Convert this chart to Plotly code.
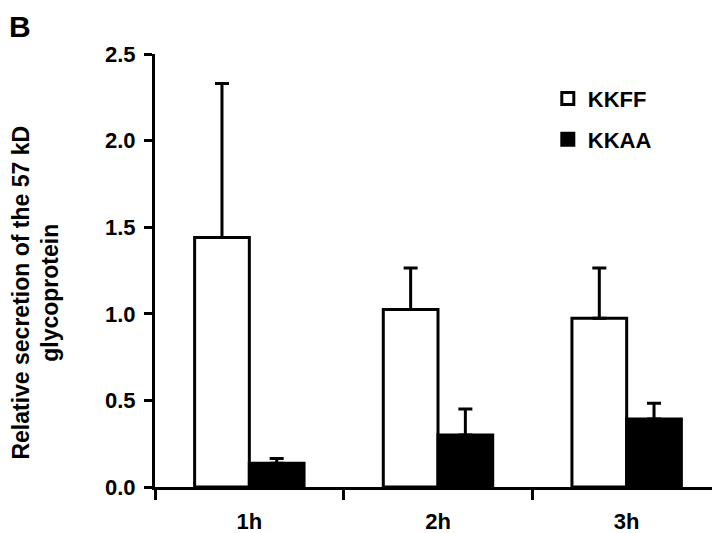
import plotly.graph_objects as go

categories = ["1h", "2h", "3h"]
kkff_values = [1.44, 1.025, 0.975]
kkff_errors = [0.89, 0.24, 0.29]
kkaa_values = [0.137, 0.30, 0.393]
kkaa_errors = [0.028, 0.15, 0.09]
y_ticks = [0.0, 0.5, 1.0, 1.5, 2.0, 2.5]
y_tick_labels = ["0.0", "0.5", "1.0", "1.5", "2.0", "2.5"]

FONT = "Liberation Sans, Arial, Helvetica, sans-serif"
FS = 22

fig = go.Figure()
fig.add_trace(go.Bar(
    name="KKFF", x=categories, y=kkff_values, legendgroup="a",
    marker=dict(color="white", line=dict(color="black", width=3)),
    error_y=dict(type="data", array=kkff_errors, arrayminus=[0]*3, symmetric=False,
                 color="black", thickness=3, width=7),
))
fig.add_trace(go.Bar(
    name="KKAA", x=categories, y=kkaa_values, legendgroup="b",
    marker=dict(color="black", line=dict(color="black", width=3)),
    error_y=dict(type="data", array=kkaa_errors, arrayminus=[0]*3, symmetric=False,
                 color="black", thickness=3, width=7),
))

fig.update_layout(
    width=720, height=533,
    margin=dict(l=147, r=7, t=46, b=48),
    paper_bgcolor="white", plot_bgcolor="white",
    barmode="group", bargap=0.42, bargroupgap=0,
    font=dict(family=FONT, size=FS, color="black", weight="bold"),
    showlegend=True,
    legend=dict(x=0.694, y=0.945, xanchor="left", yanchor="top",
                font=dict(family=FONT, size=FS, color="black", weight="bold"),
                bgcolor="rgba(0,0,0,0)", traceorder="grouped", tracegroupgap=9,
                itemwidth=30),
    xaxis=dict(
        type="category", tickson="boundaries",
        showline=True, linecolor="black", linewidth=3,
        ticks="outside", ticklen=10, tickwidth=3, tickcolor="black",
        tickfont=dict(family=FONT, size=FS, color="black", weight="bold"),
        ticklabelstandoff=13,
        showgrid=False, zeroline=False,
    ),
    yaxis=dict(
        range=[0, 2.5], tickvals=y_ticks, ticktext=y_tick_labels,
        showline=True, linecolor="black", linewidth=3,
        ticks="outside", ticklen=8, tickwidth=3, tickcolor="black",
        tickfont=dict(family=FONT, size=FS, color="black", weight="bold"),
        ticklabelstandoff=4,
        showgrid=False, zeroline=False,
    ),
    annotations=[
        dict(text="B", xref="paper", yref="paper", x=-0.2597, y=1.104,
             xanchor="left", yanchor="top", showarrow=False, borderpad=0,
             font=dict(family=FONT, size=30, color="black", weight="bold")),
        dict(text="Relative secretion of the 57 kD<br>glycoprotein",
             xref="paper", yref="paper", x=-0.211, y=0.448,
             xanchor="center", yanchor="middle", textangle=-90, showarrow=False,
             font=dict(family=FONT, size=23, color="black", weight="bold")),
    ],
)

fig.write_html("out.html")
